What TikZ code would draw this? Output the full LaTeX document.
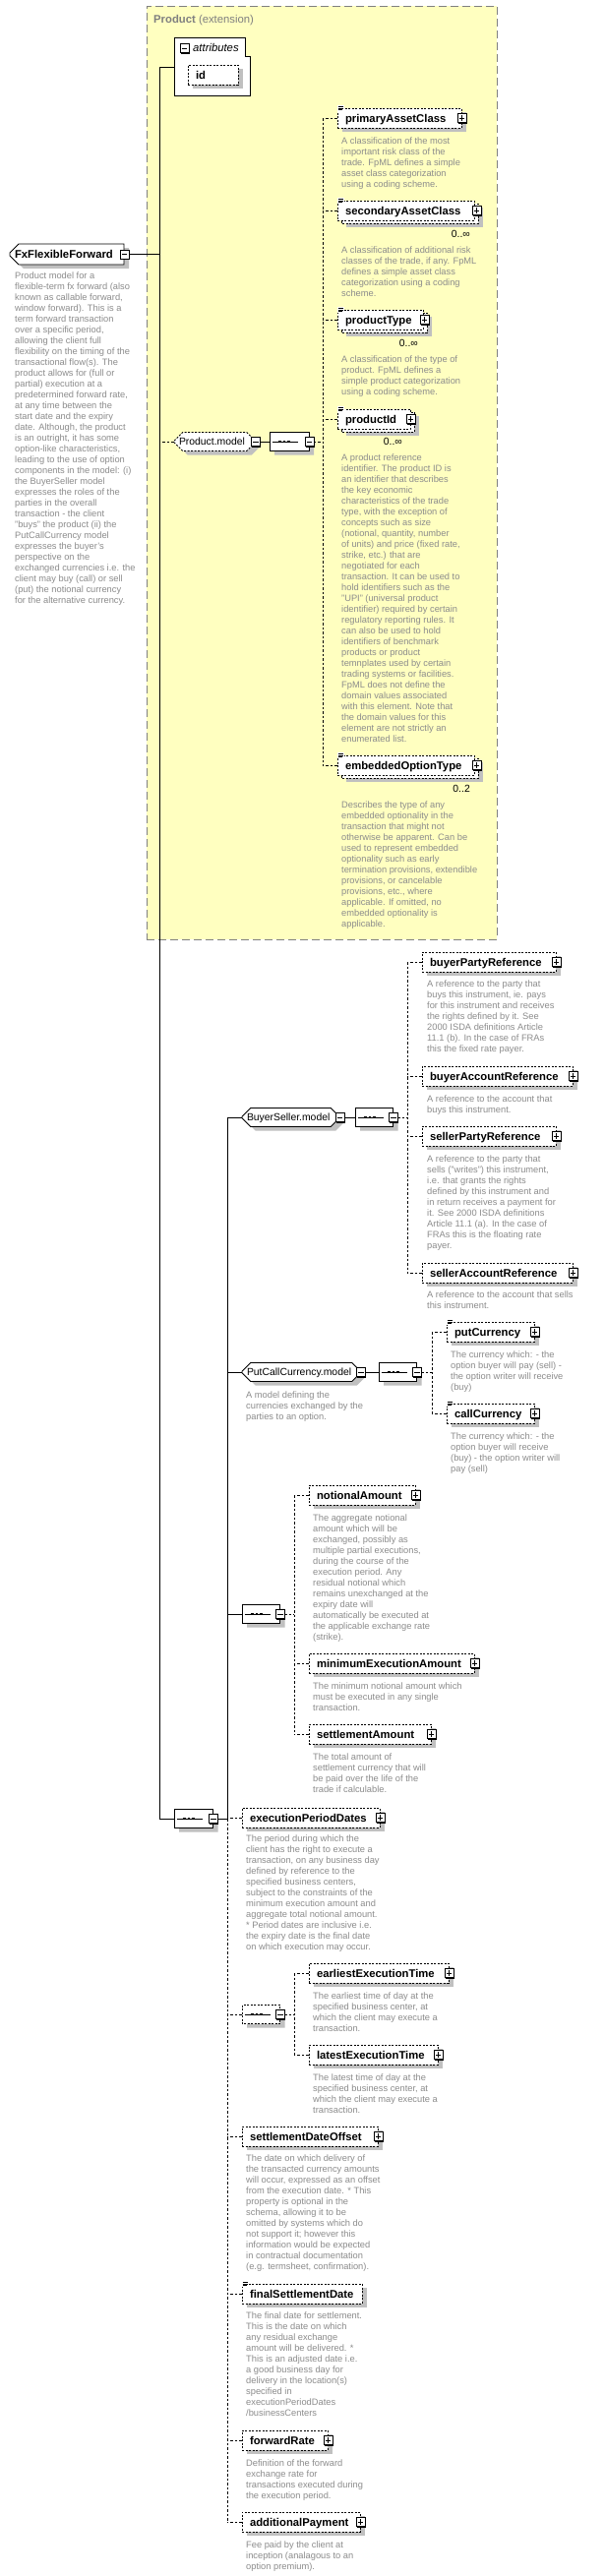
\documentclass[tikz,border=0pt]{standalone}
\usepackage{fontspec}
\setmainfont{Liberation Sans}
\usetikzlibrary{shapes.misc,shadows}
\definecolor{prodfill}{HTML}{FFFFC0}
\definecolor{prodline}{HTML}{808080}
\definecolor{shadowc}{HTML}{C0C0C0}
\definecolor{descc}{HTML}{8C8C8C}
\pgfdeclarelayer{back}\pgfdeclarelayer{bg}\pgfsetlayers{back,bg,main}
\newcommand\elfont{\fontsize{11.3}{13}\selectfont\bfseries}
\newcommand\mdfont{\fontsize{10.4}{12}\selectfont}
\newcommand\dsfont{\fontsize{9.3}{11}\selectfont}
\tikzset{
  shd/.style={drop shadow={shadow xshift=5pt,shadow yshift=-4pt,fill=shadowc,opacity=1}},
  elbase/.style={rectangle, draw=black, line width=0.8pt, dash pattern=on 2pt off 1.5pt, fill=white,
    minimum height=20pt, inner xsep=8pt, inner ysep=0pt, text height=8pt, text depth=0pt, align=left, font=\elfont},
  elbox/.style={elbase, shd},
  mdbox/.style={chamfered rectangle, chamfered rectangle xsep=5pt, chamfered rectangle ysep=5pt,
    draw=black, line width=0.8pt, fill=white, minimum height=19pt, inner sep=0pt, text height=7.5pt, text depth=0pt,
    align=left, font=\mdfont, shd},
  sqbox/.style={chamfered rectangle, chamfered rectangle xsep=6pt, chamfered rectangle ysep=6pt,
    draw=black, line width=0.8pt, fill=white, minimum height=19pt, inner sep=0pt, shd},
  ffbox/.style={chamfered rectangle, chamfered rectangle corners={north west,south west},
    chamfered rectangle xsep=5pt, chamfered rectangle ysep=5pt, draw=black, line width=0.8pt, fill=white,
    minimum height=21pt, inner sep=0pt, text height=8pt, text depth=0pt, align=left, font=\elfont, shd},
  optline/.style={dash pattern=on 2pt off 1.5pt},
  prodbox/.style={rectangle, draw=prodline, fill=prodfill, line width=1pt, dash pattern=on 8pt off 4pt, inner sep=0pt},
  desc/.style={anchor=north west, inner sep=0pt, align=left, font=\dsfont, text=descc},
  mult/.style={anchor=base east, inner sep=0pt, font=\mdfont},
  scon/.style={draw=black, line width=0.8pt},
  dcon/.style={draw=black, line width=0.8pt, dash pattern=on 2.5pt off 2pt}
}
% element box: [style] name, left, top, right, text
\newcommand\xelem[6][elbox]{%
  \pgfmathsetmacro\xw{#5-#3}%
  \pgfmathsetmacro\xtw{#5-#3-16}%
  \pgfmathsetmacro\xcx{(#3+#5)/2}%
  \pgfmathsetmacro\xcy{#4+10}%
  \node[#1, minimum width=\xw pt, text width=\xtw pt] (#2) at (\xcx,\xcy) {#6};}
% back box of a repeated element: left, top, right
\newcommand\xback[3]{%
  \fill[shadowc] (#1+9,#2+7) rectangle (#3+9,#2+27);
  \filldraw[fill=white,draw=black,line width=0.8pt,optline] (#1+4,#2+3) rectangle (#3+4,#2+23);}
% model group box: [extra] name, left, centre y, right, text
\newcommand\xmodel[6][]{%
  \pgfmathsetmacro\xw{#5-#3}%
  \pgfmathsetmacro\xtw{#5-#3-10}%
  \pgfmathsetmacro\xcx{(#3+#5)/2}%
  \node[mdbox, #1, minimum width=\xw pt, text width=\xtw pt] (#2) at (\xcx,#4) {#6};}
% sequence compositor: [extra] name, left, centre y, right
\newcommand\xseq[5][]{%
  \pgfmathsetmacro\xw{#5-#3}%
  \pgfmathsetmacro\xcx{(#3+#5)/2}%
  \node[sqbox, #1, minimum width=\xw pt] (#2) at (\xcx,#4) {};
  \draw[line width=0.8pt] ([xshift=3pt]#2.west) -- ([xshift=29pt]#2.west);
  \foreach \k in {11,15.5,20} \fill ([xshift=\k pt]#2.west) ++(-1.3,-1.3) rectangle ++(2.6,2.6);}
% plus / minus toggle at a point
\newcommand\xpm[2]{%
  \begin{scope}[shift={(#1)}]
    \fill[black] (-3.5,-3.5) rectangle (5.5,5.5);
    \filldraw[fill=white,draw=black,line width=0.8pt] (-4.5,-4.5) rectangle (4.5,4.5);
    \draw[line width=0.9pt] (-2.6,0) -- (2.6,0);
    \ifnum#2=1 \draw[line width=0.9pt] (0,-2.6) -- (0,2.6);\fi
  \end{scope}}
% documentation icon
\newcommand\xicon[1]{%
  \begin{scope}[shift={(#1)}]
    \fill[white] (0.5,-2.5) rectangle (7,3.5);
    \draw[line width=0.6pt] (1,-1.5) -- (6,-1.5);
    \draw[line width=0.6pt] (1,0.2) -- (6,0.2);
    \draw[line width=0.6pt] (1,1.9) -- (5,1.9);
  \end{scope}}
\begin{document}
\begin{tikzpicture}[x=1pt,y=-1pt]
\useasboundingbox (0,0) rectangle (615,2619);
\begin{pgfonlayer}{back}
  \fill[white] (0,0) rectangle (615,2619);
  \node[prodbox, minimum width=356pt, minimum height=949pt] (prod) at (327,480.5) {};
\end{pgfonlayer}
\node[anchor=base west, inner sep=0pt, font=\fontsize{11.3}{13}\selectfont, text=prodline] (prodlbl) at (156,23) {\textbf{Product} (extension)};

% attributes
\filldraw[fill=white, draw=black, line width=0.8pt] (177,38) -- (249,38) -- (249,57) -- (254,57) -- (254,97) -- (177,97) -- cycle;
\coordinate (attrW) at (177,68);
\xpm{187.5,49}{0}
\node[anchor=base west, inner sep=0pt, font=\fontsize{11.3}{13}\selectfont\itshape] (attrlbl) at (196,52.5) {attributes};
\xelem{idn}{191}{66}{242}{id}

% root
\node[ffbox, minimum width=116pt, text width=106pt] (ff) at (68,258.5) {FxFlexibleForward};
\xpm{ff.east}{0}
\node[desc] (d0) at (15,275.6) {\strut Product model for a\\flexible-term fx forward (also\\known as callable forward,\\window forward). This is a\\term forward transaction\\over a specific period,\\allowing the client full\\flexibility on the timing of the\\transactional flow(s). The\\product allows for (full or\\partial) execution at a\\predetermined forward rate,\\at any time between the\\start date and the expiry\\date. Although, the product\\is an outright, it has some\\option-like characteristics,\\leading to the use of option\\components in the model: (i)\\the BuyerSeller model\\expresses the roles of the\\parties in the overall\\transaction - the client\\"buys" the product (ii) the\\PutCallCurrency model\\expresses the buyer's\\perspective on the\\exchanged currencies i.e. the\\client may buy (call) or sell\\(put) the notional currency\\for the alternative currency.};

% Product.model
\xmodel[optline]{pm}{177}{449}{259.5}{Product.model}
\xpm{pm.east}{0}
\xseq{pseq}{274}{449}{314}
\xpm{pseq.east}{0}

\xelem{pac}{343}{110}{469}{primaryAssetClass}
\xpm{pac.east}{1}\xicon{pac.north west}
\node[desc] (d1) at (347,138.6) {\strut A classification of the most\\important risk class of the\\trade. FpML defines a simple\\asset class categorization\\using a coding scheme.};

\xback{343}{204}{482}
\xelem[elbase]{sac}{343}{204}{482}{secondaryAssetClass}
\xpm{[xshift=2pt]sac.east}{1}\xicon{sac.north west}
\node[mult] (m1) at (478,241.7) {0..∞};
\node[desc] (d2) at (347,249.6) {\strut A classification of additional risk\\classes of the trade, if any. FpML\\defines a simple asset class\\categorization using a coding\\scheme.};

\xback{343}{315}{430}
\xelem[elbase]{pt}{343}{315}{430}{productType}
\xpm{[xshift=1pt]pt.east}{1}\xicon{pt.north west}
\node[mult] (m2) at (425,352.7) {0..∞};
\node[desc] (d3) at (347,360.6) {\strut A classification of the type of\\product. FpML defines a\\simple product categorization\\using a coding scheme.};

\xback{343}{416}{417}
\xelem[elbase]{pid}{343}{416}{417}{productId}
\xpm{pid.east}{1}\xicon{pid.north west}
\node[mult] (m3) at (409,452.7) {0..∞};
\node[desc] (d4) at (347,460.6) {\strut A product reference\\identifier. The product ID is\\an identifier that describes\\the key economic\\characteristics of the trade\\type, with the exception of\\concepts such as size\\(notional, quantity, number\\of units) and price (fixed rate,\\strike, etc.) that are\\negotiated for each\\transaction. It can be used to\\hold identifiers such as the\\"UPI" (universal product\\identifier) required by certain\\regulatory reporting rules. It\\can also be used to hold\\identifiers of benchmark\\products or product\\temnplates used by certain\\trading systems or facilities.\\FpML does not define the\\domain values associated\\with this element. Note that\\the domain values for this\\element are not strictly an\\enumerated list.};

\xback{343}{768}{482}
\xelem[elbase]{eot}{343}{768}{482}{embeddedOptionType}
\xpm{[xshift=2pt]eot.east}{1}\xicon{eot.north west}
\node[mult] (m4) at (478,805.7) {0..2};
\node[desc] (d5) at (347,813.6) {\strut Describes the type of any\\embedded optionality in the\\transaction that might not\\otherwise be apparent. Can be\\used to represent embedded\\optionality such as early\\termination provisions, extendible\\provisions, or cancelable\\provisions, etc., where\\applicable. If omitted, no\\embedded optionality is\\applicable.};

% BuyerSeller.model
\xmodel{bsm}{246}{1136}{345}{BuyerSeller.model}
\xpm{bsm.east}{0}
\xseq{bsseq}{361}{1136}{399.5}
\xpm{bsseq.east}{0}
\xelem{bpr}{429}{968}{565}{buyerPartyReference}
\xpm{bpr.east}{1}
\node[desc] (d6) at (434,995.6) {\strut A reference to the party that\\buys this instrument, ie. pays\\for this instrument and receives\\the rights defined by it. See\\2000 ISDA definitions Article\\11.1 (b). In the case of FRAs\\this the fixed rate payer.};
\xelem{bar}{429}{1084}{582}{buyerAccountReference}
\xpm{bar.east}{1}
\node[desc] (d7) at (434,1112.6) {\strut A reference to the account that\\buys this instrument.};
\xelem{spr}{429}{1145}{565}{sellerPartyReference}
\xpm{spr.east}{1}
\node[desc] (d8) at (434,1173.6) {\strut A reference to the party that\\sells ("writes") this instrument,\\i.e. that grants the rights\\defined by this instrument and\\in return receives a payment for\\it. See 2000 ISDA definitions\\Article 11.1 (a). In the case of\\FRAs this is the floating rate\\payer.};
\xelem{sar}{429}{1284}{582}{sellerAccountReference}
\xpm{sar.east}{1}
\node[desc] (d9) at (434,1311.6) {\strut A reference to the account that sells\\this instrument.};

% PutCallCurrency.model
\xmodel{pcm}{246}{1395}{366.5}{PutCallCurrency.model}
\xpm{pcm.east}{0}
\node[desc] (d10) at (250,1413.6) {\strut A model defining the\\currencies exchanged by the\\parties to an option.};
\xseq{pcseq}{385}{1395}{423.5}
\xpm{pcseq.east}{0}
\xelem{putc}{454}{1344}{543}{putCurrency}
\xpm{putc.east}{1}\xicon{putc.north west}
\node[desc] (d11) at (458,1372.6) {\strut The currency which: - the\\option buyer will pay (sell) -\\the option writer will receive\\(buy)};
\xelem{callc}{454}{1427}{543}{callCurrency}
\xpm{callc.east}{1}\xicon{callc.north west}
\node[desc] (d12) at (458,1455.6) {\strut The currency which: - the\\option buyer will receive\\(buy) - the option writer will\\pay (sell)};

% amounts
\xseq{aseq}{246}{1641}{284.5}
\xpm{aseq.east}{0}
\xelem{na}{314}{1510}{422}{notionalAmount}
\xpm{na.east}{1}
\node[desc] (d13) at (318,1538.6) {\strut The aggregate notional\\amount which will be\\exchanged, possibly as\\multiple partial executions,\\during the course of the\\execution period. Any\\residual notional which\\remains unexchanged at the\\expiry date will\\automatically be executed at\\the applicable exchange rate\\(strike).};
\xelem{mea}{314}{1681}{482}{minimumExecutionAmount}
\xpm{mea.east}{1}
\node[desc] (d14) at (318,1709.6) {\strut The minimum notional amount which\\must be executed in any single\\transaction.};
\xelem{sa}{314}{1753}{438}{settlementAmount}
\xpm{sa.east}{1}
\node[desc] (d15) at (318,1781.6) {\strut The total amount of\\settlement currency that will\\be paid over the life of the\\trade if calculable.};

% bottom sequence
\xseq{bseq}{177}{1849}{216.5}
\xpm{bseq.east}{0}
\xelem{epd}{246}{1838}{386}{executionPeriodDates}
\xpm{epd.east}{1}
\node[desc] (d16) at (250,1864.6) {\strut The period during which the\\client has the right to execute a\\transaction, on any business day\\defined by reference to the\\specified business centers,\\subject to the constraints of the\\minimum execution amount and\\aggregate total notional amount.\\* Period dates are inclusive i.e.\\the expiry date is the final date\\on which execution may occur.};
\xseq[optline]{tseq}{246}{2048}{284.5}
\xpm{tseq.east}{0}
\xelem{eet}{314}{1996}{456}{earliestExecutionTime}
\xpm{eet.east}{1}
\node[desc] (d17) at (318,2024.6) {\strut The earliest time of day at the\\specified business center, at\\which the client may execute a\\transaction.};
\xelem{let}{314}{2079}{445}{latestExecutionTime}
\xpm{let.east}{1}
\node[desc] (d18) at (318,2107.6) {\strut The latest time of day at the\\specified business center, at\\which the client may execute a\\transaction.};
\xelem{sdo}{246}{2162}{384}{settlementDateOffset}
\xpm{sdo.east}{1}
\node[desc] (d19) at (250,2189.6) {\strut The date on which delivery of\\the transacted currency amounts\\will occur, expressed as an offset\\from the execution date. * This\\property is optional in the\\schema, allowing it to be\\omitted by systems which do\\not support it; however this\\information would be expected\\in contractual documentation\\(e.g. termsheet, confirmation).};
\xelem{fsd}{246}{2322}{368}{finalSettlementDate}
\xicon{fsd.north west}
\node[desc] (d20) at (250,2349.6) {\strut The final date for settlement.\\This is the date on which\\any residual exchange\\amount will be delivered. *\\This is an adjusted date i.e.\\a good business day for\\delivery in the location(s)\\specified in\\executionPeriodDates\\/businessCenters};
\xelem{fr}{246}{2471}{333}{forwardRate}
\xpm{fr.east}{1}
\node[desc] (d21) at (250,2499.6) {\strut Definition of the forward\\exchange rate for\\transactions executed during\\the execution period.};
\xelem{ap}{246}{2554}{366}{additionalPayment}
\xpm{ap.east}{1}
\node[desc] (d22) at (250,2582.6) {\strut Fee paid by the client at\\inception (analagous to an\\option premium).};

% connectors
\begin{pgfonlayer}{bg}
  \coordinate (tA1) at (162,68); \coordinate (tA2) at (162,1849);
  \draw[scon] (tA1) -- (tA2);
  \draw[scon] (attrW) -- (tA1);
  \draw[scon] (ff.east) -- (ff.east -| tA1);
  \draw[dcon] (pm.west) -- (pm.west -| tA1);
  \draw[scon] (bseq.west) -- (bseq.west -| tA1);
  \draw[scon] (pm.east) -- (pseq.west);
  \coordinate (bP1) at (328,120); \coordinate (bP2) at (328,778);
  \draw[dcon] (bP1) -- (bP2);
  \draw[dcon] (pseq.east) -- (pseq.east -| bP1);
  \foreach \n in {pac,sac,pt,pid,eot} \draw[dcon] (\n.west) -- (\n.west -| bP1);
  \coordinate (tB1) at (231,1136); \coordinate (tB2) at (231,1849); \coordinate (tB3) at (231,2564);
  \draw[scon] (tB1) -- (tB2); \draw[dcon] (tB2) -- (tB3);
  \draw[scon] (bseq.east) -- (bseq.east -| tB1);
  \foreach \n in {bsm,pcm,aseq} \draw[scon] (\n.west) -- (\n.west -| tB1);
  \foreach \n in {epd,tseq,sdo,fsd,fr,ap} \draw[dcon] (\n.west) -- (\n.west -| tB1);
  \draw[scon] (bsm.east) -- (bsseq.west);
  \coordinate (bB1) at (414,978); \coordinate (bB2) at (414,1294);
  \draw[dcon] (bB1) -- (bB2); \draw[dcon] (bsseq.east) -- (bsseq.east -| bB1);
  \foreach \n in {bpr,bar,spr,sar} \draw[dcon] (\n.west) -- (\n.west -| bB1);
  \draw[scon] (pcm.east) -- (pcseq.west);
  \coordinate (bC1) at (439,1354); \coordinate (bC2) at (439,1437);
  \draw[dcon] (bC1) -- (bC2); \draw[dcon] (pcseq.east) -- (pcseq.east -| bC1);
  \foreach \n in {putc,callc} \draw[dcon] (\n.west) -- (\n.west -| bC1);
  \coordinate (bD1) at (299,1520); \coordinate (bD2) at (299,1763);
  \draw[dcon] (bD1) -- (bD2); \draw[dcon] (aseq.east) -- (aseq.east -| bD1);
  \foreach \n in {na,mea,sa} \draw[dcon] (\n.west) -- (\n.west -| bD1);
  \coordinate (bE1) at (299,2006); \coordinate (bE2) at (299,2089);
  \draw[dcon] (bE1) -- (bE2); \draw[dcon] (tseq.east) -- (tseq.east -| bE1);
  \foreach \n in {eet,let} \draw[dcon] (\n.west) -- (\n.west -| bE1);
\end{pgfonlayer}
\end{tikzpicture}
\end{document}
